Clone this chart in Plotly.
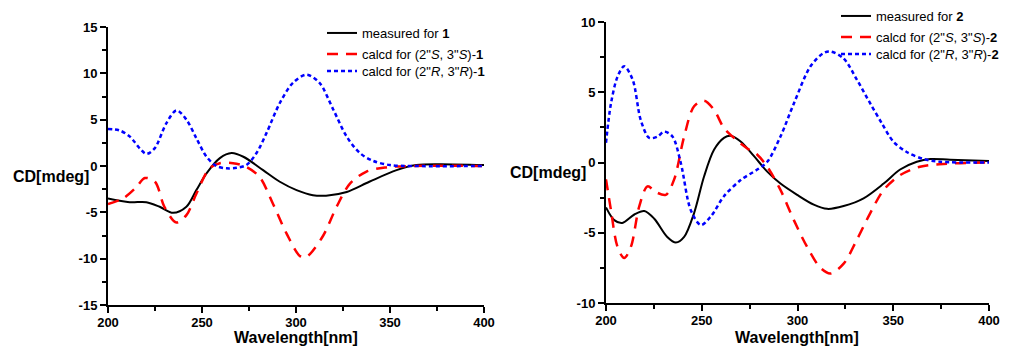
import plotly.graph_objects as go

# ---------------- data: panel 1 ----------------
wl_meas1 = [200, 211.5, 220.4, 227.5, 234.6, 241.7, 247, 252.4, 259.5, 265.7, 272, 282.5, 291.4, 300.3, 309, 316, 327, 339, 353.5, 364, 376, 400]
cd_meas1 = [-3.5, -3.9, -3.9, -4.4, -5.05, -4.4, -2.6, -0.8, 0.85, 1.4, 1.0, -0.45, -1.7, -2.6, -3.15, -3.2, -2.8, -1.7, -0.45, 0.1, 0.2, 0.1]

wl_ss1 = [200, 208, 215, 219.6, 225, 230, 236.4, 241.7, 247, 254, 259.5, 266.5, 273.6, 280.7, 287.8, 295, 302, 305, 307.4, 314.5, 321.6, 328.7, 337.5, 348, 362, 400]
cd_ss1 = [-4.1, -3.5, -2.3, -1.3, -1.7, -4.4, -6.1, -5.3, -3.0, -0.25, 0.3, 0.3, -0.1, -1.2, -4.1, -7.3, -9.7, -9.85, -9.5, -7.5, -4.4, -1.9, -0.6, -0.15, 0.0, 0.0]

wl_rr1 = [200, 206, 211.5, 216.9, 220.4, 224.8, 231, 236.4, 241.7, 247, 252.4, 257.7, 263, 268.4, 273.6, 279, 284.4, 291.4, 298.5, 305.6, 312.4, 319.8, 326.9, 334, 341, 350, 362, 400]
cd_rr1 = [4.0, 3.85, 3.2, 1.9, 1.3, 1.9, 4.6, 6.0, 5.0, 3.0, 1.0, 0.0, -0.25, -0.2, 0.1, 1.4, 3.6, 6.8, 9.0, 9.85, 9.0, 6.1, 3.2, 1.4, 0.55, 0.1, 0.0, 0.0]

# ---------------- data: panel 2 ----------------
wl_meas2 = [200, 204.3, 208.5, 214.8, 220, 225.2, 232, 236.5, 240.8, 246, 251.2, 256.4, 261.6, 265, 270.3, 277.3, 284.2, 291.1, 299.8, 308.5, 315.5, 324.1, 334.5, 345, 353.6, 362.3, 369.3, 379.7, 400]
cd_meas2 = [-3.2, -4.1, -4.3, -3.7, -3.45, -4.0, -5.3, -5.7, -5.3, -3.6, -1.0, 0.9, 1.75, 1.9, 1.5, 0.45, -0.65, -1.5, -2.3, -3.0, -3.3, -3.1, -2.55, -1.5, -0.5, 0.05, 0.25, 0.2, 0.1]

wl_ss2 = [200, 202.6, 206, 209.5, 213, 217.4, 221.7, 226, 231.2, 235.6, 240.8, 246, 251.2, 256.4, 261.6, 266.8, 273.8, 279, 284.2, 291.1, 298.1, 305, 312, 317.2, 324.1, 331, 338, 345, 353.6, 364, 376.2, 400]
cd_ss2 = [-1.2, -3.4, -6.0, -6.8, -6.0, -3.1, -1.7, -2.1, -2.3, -1.2, 1.85, 4.0, 4.4, 3.75, 2.45, 1.75, 1.0, 0.55, -0.3, -1.95, -4.1, -6.0, -7.5, -7.9, -7.2, -5.5, -3.6, -1.95, -0.9, -0.3, -0.1, 0.0]

wl_rr2 = [200, 202.6, 206, 209.5, 213.9, 218.2, 222.6, 227, 230.4, 234.7, 239, 244.3, 249.5, 254.7, 261.6, 270.3, 279, 284.2, 291.1, 298.1, 306.8, 313.7, 317.2, 324.1, 331, 338, 344, 350, 357, 365.8, 374.5, 400]
cd_rr2 = [1.4, 4.2, 6.1, 6.85, 5.9, 3.0, 1.75, 1.85, 2.2, 1.85, 0.0, -3.4, -4.45, -3.85, -2.4, -1.25, -0.5, 0.05, 1.85, 4.2, 6.85, 7.8, 7.9, 7.4, 5.9, 4.2, 2.8, 1.5, 0.75, 0.25, 0.05, 0.0]

x_ticks = [200, 250, 300, 350, 400]
y_ticks1 = [-15, -10, -5, 0, 5, 10, 15]
y_ticks2 = [-10, -5, 0, 5, 10]

FONT = "Liberation Sans, Arial, sans-serif"
RED_DASH = "11px,8px"
BLUE_DOT = "4px,3px"

# The page body has an 8px margin: lay the figure out in window pixels minus that.
OFF = 8
W, H = 1012 - OFF, 356 - OFF

def px(x):
    return (x - OFF) / W

def py(y):
    return 1 - (y - OFF) / H

fig = go.Figure()

def add(x, y, name, color, dash, width, xa, ya, legend):
    fig.add_trace(go.Scatter(
        x=x, y=y, name=name, mode="lines",
        line=dict(color=color, dash=dash, width=width, shape="spline", smoothing=0.9),
        xaxis=xa, yaxis=ya, legend=legend,
    ))

add(wl_meas1, cd_meas1, "measured for <b>1</b>", "black", "solid", 2, "x", "y", "legend")
add(wl_ss1, cd_ss1, "calcd for (2\"<i>S</i>, 3\"<i>S</i>)-<b>1</b>", "#ff0000", RED_DASH, 2.5, "x", "y", "legend2")
add(wl_rr1, cd_rr1, "calcd for (2\"<i>R</i>, 3\"<i>R</i>)-<b>1</b>", "#0000ff", BLUE_DOT, 2.5, "x", "y", "legend3")

add(wl_meas2, cd_meas2, "measured for <b>2</b>", "black", "solid", 2, "x2", "y2", "legend4")
add(wl_ss2, cd_ss2, "calcd for (2\"<i>S</i>, 3\"<i>S</i>)-<b>2</b>", "#ff0000", RED_DASH, 2.5, "x2", "y2", "legend5")
add(wl_rr2, cd_rr2, "calcd for (2\"<i>R</i>, 3\"<i>R</i>)-<b>2</b>", "#0000ff", BLUE_DOT, 2.5, "x2", "y2", "legend6")

TICKFONT = dict(family=FONT, size=13, color="black")

def xaxis(x0, x1, anchor):
    return dict(
        domain=[px(x0), px(x1)], anchor=anchor, range=[200, 400],
        tickvals=x_ticks, ticktext=[f"<b>{v}</b>" for v in x_ticks],
        showline=True, linecolor="black", linewidth=2, mirror=False,
        ticks="outside", ticklen=6, tickwidth=2, tickcolor="black",
        ticklabelstandoff=-2,
        minor=dict(dtick=25, tick0=200, ticks="outside", ticklen=4, tickwidth=2, tickcolor="black"),
        showgrid=False, zeroline=False, automargin=False,
        tickfont=TICKFONT,
    )

def yaxis(ybot, ytop, anchor, rng, ticks, minor):
    return dict(
        domain=[py(ybot), py(ytop)], anchor=anchor, range=rng,
        tickvals=ticks, ticktext=[f"<b>{v}</b>" for v in ticks],
        showline=True, linecolor="black", linewidth=2, mirror=False,
        ticks="outside", ticklen=6, tickwidth=2, tickcolor="black",
        minor=dict(dtick=minor, tick0=0, ticks="outside", ticklen=4, tickwidth=2, tickcolor="black"),
        showgrid=False, zeroline=False, automargin=False,
        tickfont=TICKFONT,
    )

def legend_at(xline, yrow):
    # legend sample line starts ~10px right of legend x; row centre ~16px below top
    return dict(x=px(xline - 10), y=py(yrow - 16), xanchor="left", yanchor="top",
                bgcolor="rgba(0,0,0,0)", itemwidth=30,
                font=dict(family=FONT, size=13, color="black"))

title_font = dict(family=FONT, size=16, color="black")

fig.update_layout(
    width=W, height=H,
    margin=dict(l=0, r=0, t=0, b=0, autoexpand=False),
    paper_bgcolor="white", plot_bgcolor="white",
    font=dict(family=FONT, color="black"),
    xaxis=xaxis(108, 484, "y"),
    yaxis=yaxis(305, 27, "x", [-15, 15], y_ticks1, 2.5),
    xaxis2=xaxis(606, 989, "y2"),
    yaxis2=yaxis(303, 22, "x2", [-10, 10], y_ticks2, 2.5),
    legend=legend_at(332, 34),
    legend2=legend_at(332, 55),
    legend3=legend_at(332, 72),
    legend4=legend_at(846, 17),
    legend5=legend_at(846, 38),
    legend6=legend_at(846, 55),
    showlegend=True,
    annotations=[
        dict(text="<b>CD[mdeg]</b>", xref="paper", yref="paper", x=px(91), y=py(176),
             xanchor="right", yanchor="middle", showarrow=False, font=title_font),
        dict(text="<b>CD[mdeg]</b>", xref="paper", yref="paper", x=px(588), y=py(172),
             xanchor="right", yanchor="middle", showarrow=False, font=title_font),
        dict(text="<b>Wavelength[nm]</b>", xref="paper", yref="paper", x=px(296), y=py(337),
             xanchor="center", yanchor="middle", showarrow=False, font=title_font),
        dict(text="<b>Wavelength[nm]</b>", xref="paper", yref="paper", x=px(797), y=py(337),
             xanchor="center", yanchor="middle", showarrow=False, font=title_font),
    ],
)

fig.write_html("out.html")
